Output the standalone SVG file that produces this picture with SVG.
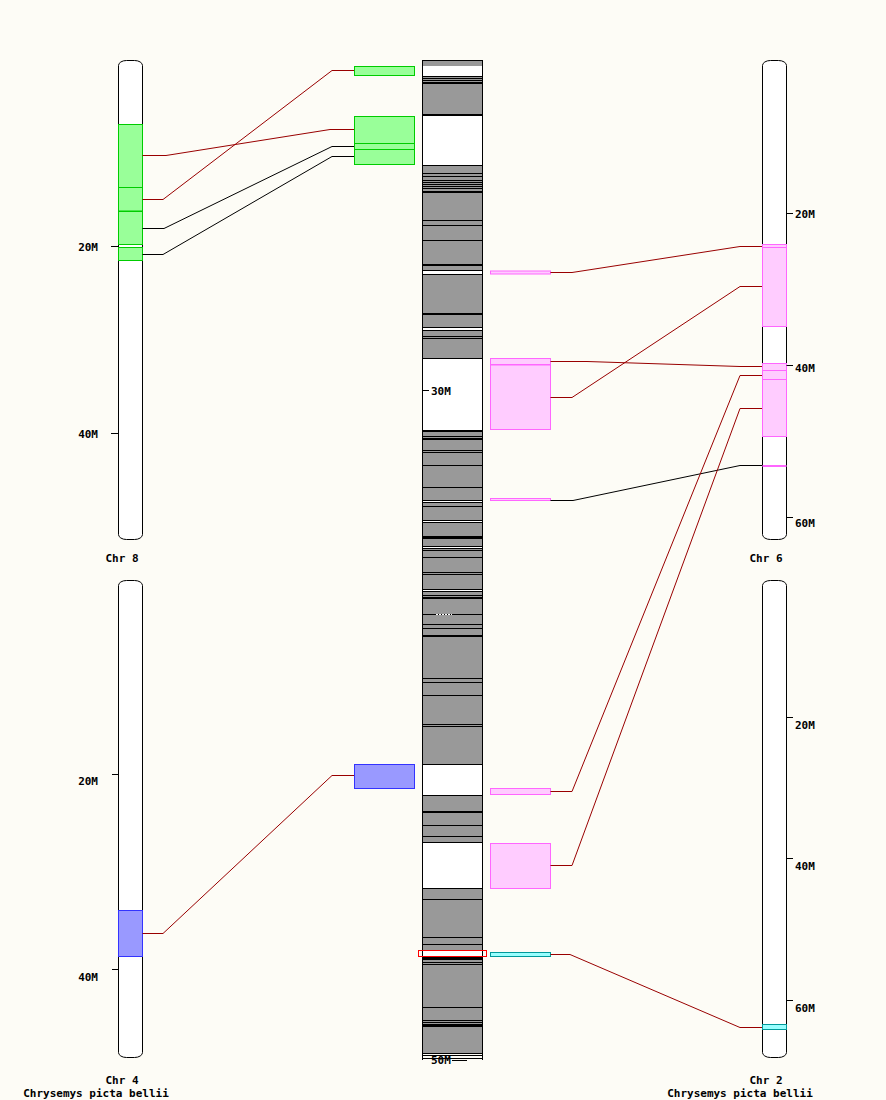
<svg xmlns="http://www.w3.org/2000/svg" width="886" height="1100" viewBox="0 0 886 1100">
<style>
.bg{fill:#fdfcf6}
.chr{fill:#ffffff;stroke:#000;stroke-width:1}
.tick{stroke:#000;stroke-width:1;fill:none}
.lbl{font-family:"DejaVu Sans Mono","Liberation Mono",monospace;font-weight:bold;font-size:11px;fill:#000}
.g{fill:#99ff99;stroke:#00cc00;stroke-width:1}
.p{fill:#ffccff;stroke:#ff66ff;stroke-width:1}
.b{fill:#9999ff;stroke:#3333ff;stroke-width:1}
.c{fill:#99ffff;stroke:#009999;stroke-width:1}
.red{fill:none;stroke:#990000;stroke-width:1}
.blk{fill:none;stroke:#000000;stroke-width:1}
.band{fill:#000}
.wb{fill:#fff}
</style>
<rect class="bg" x="0" y="0" width="886" height="1100"/>

<!-- Chr 8 -->
<g id="chr8">
<rect class="chr" x="118.5" y="60.5" width="24" height="479" rx="8" ry="5"/>
<rect class="g" x="118.5" y="124.5" width="24" height="63"/>
<rect class="g" x="118.5" y="187.5" width="24" height="23.5"/>
<rect class="g" x="118.5" y="211.5" width="24" height="33"/>
<rect class="g" x="118.5" y="247.5" width="24" height="13"/>
<path class="tick" d="M111,246.5H118M111,433.5H118"/>
<text class="lbl" x="98" y="250.5" text-anchor="end">20M</text>
<text class="lbl" x="98" y="437.5" text-anchor="end">40M</text>
<text class="lbl" x="122" y="562" text-anchor="middle">Chr 8</text>
</g>

<!-- Chr 4 -->
<g id="chr4">
<rect class="chr" x="118.5" y="580.5" width="24" height="477" rx="8" ry="5"/>
<rect class="b" x="118.5" y="910.5" width="24" height="46"/>
<path class="tick" d="M112,774.5H118M112,969.5H118"/>
<text class="lbl" x="98" y="785" text-anchor="end">20M</text>
<text class="lbl" x="98" y="981" text-anchor="end">40M</text>
<text class="lbl" x="122" y="1084" text-anchor="middle">Chr 4</text>
<text class="lbl" x="96" y="1097.3" text-anchor="middle">Chrysemys picta bellii</text>
</g>

<!-- Chr 6 -->
<g id="chr6">
<rect class="chr" x="762.5" y="60.5" width="24" height="479" rx="8" ry="5"/>
<rect class="p" x="762.5" y="244.5" width="24" height="82"/>
<path d="M762.5,247.5H786.5" stroke="#ff66ff"/>
<rect class="p" x="762.5" y="363.5" width="24" height="73"/>
<path d="M762.5,370.5H786.5M762.5,379.5H786.5" stroke="#ff66ff"/>
<rect x="762.5" y="465" width="24" height="2" fill="#ff66ff"/>
<path class="tick" d="M786.5,213.5H793M786.5,365.5H793M786.5,517.5H793"/>
<text class="lbl" x="795" y="217.5">20M</text>
<text class="lbl" x="795" y="371.5">40M</text>
<text class="lbl" x="795" y="527">60M</text>
<text class="lbl" x="766" y="562" text-anchor="middle">Chr 6</text>
</g>

<!-- Chr 2 -->
<g id="chr2">
<rect class="chr" x="762.5" y="580.5" width="24" height="477" rx="8" ry="5"/>
<rect class="c" x="762.5" y="1024.5" width="24" height="5"/>
<path class="tick" d="M786.5,717.5H793M786.5,858.5H793M786.5,1000.5H793"/>
<text class="lbl" x="795" y="729">20M</text>
<text class="lbl" x="795" y="870">40M</text>
<text class="lbl" x="795" y="1012">60M</text>
<text class="lbl" x="766" y="1084" text-anchor="middle">Chr 2</text>
<text class="lbl" x="740" y="1097.3" text-anchor="middle">Chrysemys picta bellii</text>
</g>

<!-- Reference chromosome (centre) -->
<g id="ref">
<rect x="422" y="60" width="61" height="994" fill="#999999"/>
<rect class="wb" x="423" y="66" width="59" height="10"/>
<rect class="wb" x="423" y="115" width="59" height="50"/>
<rect class="wb" x="423" y="271" width="59" height="3"/>
<rect class="wb" x="423" y="328" width="59" height="2"/>
<rect class="wb" x="423" y="359" width="59" height="71"/>
<rect class="wb" x="423" y="501" width="59" height="1"/>
<rect class="wb" x="423" y="521" width="59" height="1"/>
<rect class="wb" x="423" y="547" width="59" height="1"/>
<rect class="wb" x="423" y="590" width="59" height="1"/>
<rect class="wb" x="423" y="765" width="59" height="30"/>
<rect class="wb" x="423" y="843" width="59" height="45"/>
<rect class="wb" x="423" y="951" width="59" height="6"/>
<g class="band">
<rect x="422" y="76" width="61" height="1"/><rect x="422" y="78" width="61" height="1"/>
<rect x="422" y="80" width="61" height="1"/><rect x="422" y="82" width="61" height="2"/>
<rect x="422" y="114" width="61" height="2"/><rect x="422" y="165" width="61" height="1"/>
<rect x="422" y="173" width="61" height="1"/><rect x="422" y="176" width="61" height="1"/>
<rect x="422" y="180" width="61" height="1"/><rect x="422" y="182" width="61" height="1"/>
<rect x="422" y="184" width="61" height="1"/><rect x="422" y="186" width="61" height="1"/>
<rect x="422" y="188" width="61" height="1"/><rect x="422" y="191" width="61" height="2"/>
<rect x="422" y="220" width="61" height="1"/><rect x="422" y="225" width="61" height="1"/>
<rect x="422" y="240" width="61" height="1"/><rect x="422" y="264" width="61" height="2"/>
<rect x="422" y="270" width="61" height="1"/><rect x="422" y="274" width="61" height="1"/>
<rect x="422" y="313" width="61" height="2"/><rect x="422" y="327" width="61" height="1"/>
<rect x="422" y="330" width="61" height="1"/><rect x="422" y="336" width="61" height="1"/>
<rect x="422" y="338" width="61" height="1"/><rect x="422" y="358" width="61" height="1"/>
<rect x="422" y="430" width="61" height="1"/><rect x="422" y="431" width="61" height="1"/>
<rect x="422" y="436" width="61" height="1"/><rect x="422" y="438" width="61" height="2"/>
<rect x="422" y="450" width="61" height="1"/><rect x="422" y="452" width="61" height="1"/>
<rect x="422" y="465" width="61" height="1"/><rect x="422" y="487" width="61" height="1"/>
<rect x="422" y="500" width="61" height="1"/><rect x="422" y="502" width="61" height="1"/>
<rect x="422" y="506" width="61" height="1"/><rect x="422" y="520" width="61" height="1"/>
<rect x="422" y="522" width="61" height="1"/><rect x="422" y="536" width="61" height="3"/>
<rect x="422" y="546" width="61" height="1"/><rect x="422" y="548" width="61" height="1"/>
<rect x="422" y="550" width="61" height="1"/><rect x="422" y="557" width="61" height="1"/>
<rect x="422" y="572" width="61" height="1"/><rect x="422" y="574" width="61" height="1"/>
<rect x="422" y="589" width="61" height="1"/><rect x="422" y="591" width="61" height="1"/>
<rect x="422" y="595" width="61" height="1"/><rect x="422" y="597" width="61" height="2"/>
<rect x="422" y="614" width="61" height="1"/><rect x="422" y="624" width="61" height="1"/>
<rect x="422" y="628" width="61" height="1"/><rect x="422" y="635" width="61" height="2"/>
<rect x="422" y="678" width="61" height="1"/><rect x="422" y="682" width="61" height="1"/>
<rect x="422" y="695" width="61" height="1"/><rect x="422" y="724" width="61" height="1"/>
<rect x="422" y="726" width="61" height="1"/><rect x="422" y="764" width="61" height="1"/>
<rect x="422" y="795" width="61" height="1"/><rect x="422" y="811" width="61" height="2"/>
<rect x="422" y="825" width="61" height="1"/><rect x="422" y="836" width="61" height="1"/>
<rect x="422" y="842" width="61" height="1"/><rect x="422" y="888" width="61" height="1"/>
<rect x="422" y="899" width="61" height="1"/><rect x="422" y="937" width="61" height="1"/>
<rect x="422" y="944" width="61" height="1"/><rect x="422" y="957" width="61" height="3"/>
<rect x="422" y="962" width="61" height="1"/><rect x="422" y="964" width="61" height="1"/>
<rect x="422" y="1007" width="61" height="1"/><rect x="422" y="1020" width="61" height="1"/>
<rect x="422" y="1022" width="61" height="1"/><rect x="422" y="1024" width="61" height="3"/>
</g>
<path d="M443,501.5H452M436,614.5H452" stroke="#fff" stroke-dasharray="2,1"/>
<rect x="422.5" y="60.5" width="60" height="993" fill="none" stroke="#000"/>
<path class="tick" d="M422,1055.5H483M422,1058.5H483M422.5,1053V1060M482.5,1053V1060M452,1060.5H467"/>
<path class="tick" d="M422,390.5H429"/>
<text class="lbl" x="431" y="395">30M</text>
<text class="lbl" x="431" y="1064">50M</text>
<rect x="418.5" y="950.5" width="68" height="6" fill="none" stroke="#ff0000"/>
</g>

<!-- Synteny blocks on the reference -->
<g id="blk-g1"><rect class="g" x="354.5" y="66.5" width="60" height="9"/></g>
<g id="blk-g2">
<rect class="g" x="354.5" y="116.5" width="60" height="48"/>
<path d="M354.5,143.5H414.5M354.5,149.5H414.5" stroke="#00cc00"/>
</g>
<g id="blk-b1"><rect class="b" x="354.5" y="764.5" width="60" height="24"/></g>
<g id="blk-p1"><rect class="p" x="490.5" y="271" width="60" height="3"/></g>
<g id="blk-p2">
<rect class="p" x="490.5" y="358.5" width="60" height="71"/>
<rect x="490.5" y="364" width="60" height="1.5" fill="#ff66ff"/>
</g>
<g id="blk-p3"><rect class="p" x="490.5" y="498.5" width="60" height="2"/></g>
<g id="blk-p4"><rect class="p" x="490.5" y="788.5" width="60" height="6"/></g>
<g id="blk-p5"><rect class="p" x="490.5" y="843.5" width="60" height="45"/></g>
<g id="blk-c1"><rect class="c" x="490.5" y="952.5" width="60" height="4"/></g>

<!-- Connectors -->
<g id="connectors">
<path class="red" d="M142.5,155.5H166L330,129.5H354"/>
<path class="red" d="M142.5,199.5H163L332,70.5H354"/>
<path class="blk" d="M142.5,228.5H164L332,146.5H354"/>
<path class="blk" d="M142.5,254.5H163L332,156.5H354"/>
<path class="red" d="M142.5,933.5H163L332,775.5H354"/>
<path class="red" d="M550.5,272.5H572L740,246.5H762"/>
<path class="red" d="M550.5,361.5H587L740,366.5H762"/>
<path class="red" d="M550.5,397.5H572L740,286.5H762"/>
<path class="blk" d="M550.5,500.5H573L740,465.5H762"/>
<path class="red" d="M550.5,791.5H572L740,375.5H762"/>
<path class="red" d="M550.5,865.5H572L740,408.5H762"/>
<path class="red" d="M550.5,954.5H570L740,1027.5H762"/>
</g>
</svg>
